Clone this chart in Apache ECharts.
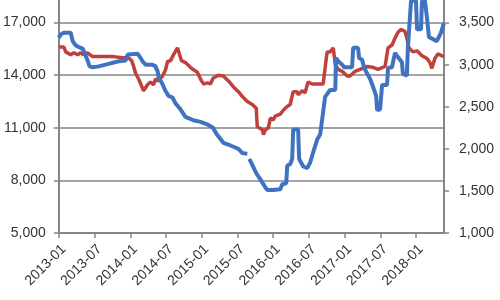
<!DOCTYPE html>
<html>
<head>
<meta charset="utf-8">
<script src="https://cdn.jsdelivr.net/npm/echarts@6/dist/echarts.min.js"></script>
<style>
html,body{margin:0;padding:0;background:#fff;overflow:hidden;width:500px;height:300px;}
#chart{position:absolute;left:0;top:-37px;width:500px;height:337px;}
</style>
</head>
<body>
<div id="chart"></div>
<script>
// Red series (left axis)
const redDates = ["2013-01-01","2013-01-26","2013-02-06","2013-03-01","2013-03-16","2013-04-06","2013-04-21","2013-05-06","2013-05-26","2013-06-21","2013-08-01","2013-09-07","2013-10-07","2013-11-22","2013-12-22","2014-01-08","2014-01-18","2014-01-28","2014-02-13","2014-02-28","2014-03-08","2014-03-28","2014-04-13","2014-04-28","2014-05-08","2014-05-23","2014-06-13","2014-06-28","2014-07-09","2014-07-24","2014-08-09","2014-08-29","2014-09-09","2014-09-19","2014-10-09","2014-11-04","2014-11-24","2014-12-09","2014-12-25","2015-01-10","2015-01-30","2015-02-15","2015-02-28","2015-03-25","2015-04-20","2015-05-16","2015-06-11","2015-07-06","2015-07-26","2015-08-21","2015-09-16","2015-10-06","2015-10-11","2015-11-07","2015-11-12","2015-11-22","2015-12-07","2015-12-17","2016-01-02","2016-01-12","2016-02-07","2016-02-22","2016-03-12","2016-03-27","2016-04-12","2016-05-02","2016-05-07","2016-05-27","2016-06-12","2016-06-27","2016-07-18","2016-08-13","2016-09-13","2016-09-28","2016-10-03","2016-10-18","2016-11-04","2016-11-14","2016-11-29","2016-12-19","2017-01-14","2017-01-29","2017-02-24","2017-03-19","2017-04-24","2017-05-24","2017-06-20","2017-07-25","2017-08-10","2017-08-30","2017-09-15","2017-09-30","2017-10-15","2017-11-05","2017-11-15","2017-11-25","2017-12-15","2018-01-06","2018-02-01","2018-02-26","2018-03-11","2018-03-21","2018-04-06","2018-04-21","2018-05-11","2018-05-21"];
const redValues = [15610,15610,15330,15170,15280,15170,15280,15170,15280,15060,15060,15060,15060,15000,15000,14830,14500,14110,13780,13390,13110,13450,13610,13450,13780,13670,13950,14280,14780,14830,15170,15560,15610,14830,14720,14450,14280,14170,13780,13500,13560,13500,13830,14000,13950,13670,13330,13060,12780,12500,12330,12110,11060,10890,10610,10890,11000,11560,11450,11670,11780,12000,12220,12330,13060,13060,12890,13110,13000,13610,13500,13500,13500,14890,15330,15330,15560,14610,14330,14220,13950,13950,14220,14330,14500,14450,14330,14500,15560,15720,16110,16450,16610,16500,16110,15560,15330,15390,15110,14950,14720,14390,14950,15220,15110,15060];

// Blue series (right axis)
const blueDates = ["2013-01-01","2013-01-11","2013-01-26","2013-03-01","2013-03-11","2013-03-26","2013-04-11","2013-05-01","2013-05-11","2013-05-26","2013-06-06","2013-06-21","2013-07-22","2013-09-12","2013-11-03","2013-12-08","2013-12-18","2014-02-08","2014-02-23","2014-03-03","2014-03-18","2014-04-23","2014-05-08","2014-05-19","2014-05-23","2014-06-13","2014-06-28","2014-07-14","2014-08-04","2014-08-19","2014-09-14","2014-10-09","2014-11-19","2014-12-25","2015-01-30","2015-02-28","2015-03-15","2015-04-05","2015-04-20","2015-05-26","2015-07-06","2015-07-26","2015-08-21","2015-08-26","2015-09-01","2015-09-16","2015-10-06","2015-10-26","2015-11-22","2015-12-02","2016-01-02","2016-02-07","2016-02-17","2016-03-07","2016-03-12","2016-03-27","2016-04-07","2016-04-12","2016-05-07","2016-05-12","2016-06-03","2016-06-23","2016-07-08","2016-07-23","2016-08-13","2016-08-28","2016-09-08","2016-09-23","2016-10-03","2016-10-18","2016-11-14","2016-11-18","2016-11-29","2016-12-19","2016-12-29","2017-02-09","2017-02-14","2017-03-09","2017-03-14","2017-03-29","2017-04-09","2017-04-19","2017-05-10","2017-05-24","2017-06-10","2017-06-15","2017-06-30","2017-07-10","2017-08-05","2017-08-10","2017-08-30","2017-09-15","2017-09-30","2017-10-20","2017-10-25","2017-11-15","2017-11-20","2017-12-06","2018-01-01","2018-01-06","2018-01-26","2018-02-01","2018-02-16","2018-02-26","2018-03-06","2018-04-16","2018-05-07","2018-05-21"];
const blueValues = [3320,3360,3380,3380,3280,3230,3210,3190,3140,3050,2980,2970,2980,3010,3040,3050,3120,3130,3080,3040,3000,3000,2980,2920,2860,2770,2690,2630,2610,2540,2470,2380,2340,2320,2290,2250,2180,2120,2070,2040,2000,1950,1940,null,1880,1810,1710,1640,1540,1510,1510,1520,1580,1590,1800,1820,1880,2230,2230,1880,1790,1770,1840,1960,2110,2170,2170,2620,2650,2700,2700,3080,3040,3000,2970,2970,3200,3200,3080,3060,2970,2920,2830,2740,2630,2460,2470,2760,2760,2960,2970,3140,3090,3030,2890,2870,3200,3760,3760,3420,3420,3760,3760,3560,3330,3280,3380,3490];

const xTickLabels = ["2013-01","2013-07","2014-01","2014-07","2015-01","2015-07","2016-01","2016-07","2017-01","2017-07","2018-01"];
const leftTicks = [5000, 8000, 11000, 14000, 17000, 20000];
const rightTicks = [1000, 1500, 2000, 2500, 3000, 3500, 4000];

function monthIndex(d) {
  const p = d.split('-').map(Number);
  return (p[0] - 2013) * 12 + (p[1] - 1) + (p[2] - 1) / 30;
}
function pairs(dates, vals) {
  return dates.map((d, i) => [monthIndex(d), vals[i]]);
}
function fmtThousands(v) {
  return String(Math.round(v)).replace(/\B(?=(\d{3})+(?!\d))/g, ',');
}

const axisColor = '#868686';
const textColor = '#333333';
const fontFamily = '"Liberation Sans", Arial, sans-serif';

const chart = echarts.init(document.getElementById('chart'), null, {renderer: 'canvas'});
chart.setOption({
  animation: false,
  backgroundColor: '#ffffff',
  grid: {left: 58, right: 56, top: 0, bottom: 67, containLabel: false},
  xAxis: {
    type: 'value',
    min: 0,
    max: 64.7,
    interval: 6,
    axisLine: {show: true, lineStyle: {color: axisColor, width: 2}},
    axisTick: {show: true, length: 5, lineStyle: {color: axisColor, width: 1.5}},
    splitLine: {show: false},
    axisLabel: {
      rotate: 45,
      margin: 9,
      verticalAlign: 'top',
      color: textColor,
      fontSize: 14,
      fontFamily: fontFamily,
      showMaxLabel: false,
      formatter: function (v) {
        const i = Math.round(v / 6);
        return xTickLabels[i] !== undefined ? xTickLabels[i] : '';
      }
    }
  },
  yAxis: [
    {
      type: 'value',
      position: 'left',
      min: leftTicks[0],
      max: leftTicks[leftTicks.length - 1],
      interval: 3000,
      axisLine: {show: true, lineStyle: {color: axisColor, width: 2}},
      axisTick: {show: true, length: 5, lineStyle: {color: axisColor, width: 1.5}},
      splitLine: {show: true, lineStyle: {color: axisColor, width: 1.5}},
      axisLabel: {margin: 13, color: textColor, fontSize: 14, fontFamily: fontFamily,
        formatter: fmtThousands}
    },
    {
      type: 'value',
      position: 'right',
      min: rightTicks[0],
      max: 4125,
      interval: 500,
      axisLine: {show: true, lineStyle: {color: axisColor, width: 2}},
      axisTick: {show: true, length: 5, lineStyle: {color: axisColor, width: 1.5}},
      splitLine: {show: false},
      axisLabel: {margin: 15, color: textColor, fontSize: 14, fontFamily: fontFamily,
        showMaxLabel: false,
        formatter: fmtThousands}
    }
  ],
  series: [
    {
      name: 'red',
      type: 'line',
      yAxisIndex: 0,
      data: pairs(redDates, redValues),
      showSymbol: false,
      symbol: 'none',
      lineStyle: {color: '#c0403c', width: 3.5},
      z: 2
    },
    {
      name: 'blue',
      type: 'line',
      yAxisIndex: 1,
      data: pairs(blueDates, blueValues),
      showSymbol: false,
      symbol: 'none',
      connectNulls: false,
      lineStyle: {color: '#3f72c0', width: 4},
      z: 3
    }
  ]
});
</script>
</body>
</html>
